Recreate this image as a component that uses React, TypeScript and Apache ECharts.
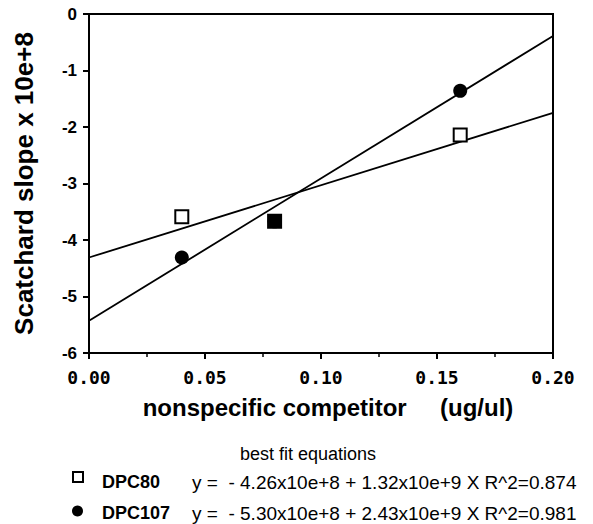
import React, { useEffect, useRef } from "react";
import * as echarts from "echarts";

// Data
const dpc80Points: [number, number][] = [
  [0.04, -3.59],
  [0.08, -3.67],
  [0.16, -2.14],
];
const dpc107Points: [number, number][] = [
  [0.04, -4.31],
  [0.08, -3.67],
  [0.16, -1.36],
];
const dpc80Fit: [number, number][] = [
  [0, -4.31],
  [0.2, -1.75],
];
const dpc107Fit: [number, number][] = [
  [0, -5.43],
  [0.2, -0.39],
];
const seriesNames = ["DPC80", "DPC107"];
const equations = [
  "y =  - 4.26x10e+8 + 1.32x10e+9 X R^2=0.874",
  "y =  - 5.30x10e+8 + 2.43x10e+9 X R^2=0.981",
];
const legendTitle = "best fit equations";
const xAxisName = "nonspecific competitor     (ug/ul)";
const yAxisName = "Scatchard slope x 10e+8";

export default function App() {
  const ref = useRef<HTMLDivElement>(null);

  useEffect(() => {
    if (!ref.current) return;
    const chart = echarts.init(ref.current, undefined, { renderer: "svg" });

    const overlaps = (p: [number, number]) =>
      dpc107Points.some((q) => q[0] === p[0] && q[1] === p[1]);

    const sans = "'Liberation Sans', Arial, Helvetica, sans-serif";
    const mono = "'DejaVu Sans Mono', monospace";

    chart.setOption({
      animation: false,
      backgroundColor: "#fff",
      grid: {
        left: 89,
        right: 40,
        top: 14,
        bottom: 171,
        show: true,
        borderColor: "#000",
        borderWidth: 2,
        backgroundColor: "transparent",
      },
      xAxis: {
        type: "value",
        min: 0,
        max: 0.2,
        interval: 0.05,
        name: xAxisName,
        nameLocation: "middle",
        nameGap: 42,
        nameTextStyle: {
          fontFamily: sans,
          fontWeight: "bold",
          fontSize: 24,
          color: "#000",
          padding: [0, 0, 0, 14],
        },
        axisLine: { onZero: false, lineStyle: { color: "#000", width: 2 } },
        axisTick: { show: true, length: 6, lineStyle: { color: "#000", width: 2 } },
        minorTick: { show: true, splitNumber: 2, length: 4, lineStyle: { color: "#000", width: 1.5 } },
        splitLine: { show: false },
        axisLabel: {
          margin: 15,
          fontFamily: mono,
          fontWeight: "bold",
          fontSize: 18,
          color: "#000",
          formatter: (v: number) => v.toFixed(2),
        },
      },
      yAxis: {
        type: "value",
        min: -6,
        max: 0,
        interval: 1,
        name: yAxisName,
        nameLocation: "middle",
        nameGap: 52,
        nameTextStyle: {
          fontFamily: sans,
          fontWeight: "bold",
          fontSize: 26,
          color: "#000",
        },
        axisLine: { onZero: false, lineStyle: { color: "#000", width: 2 } },
        axisTick: { show: true, length: 6, lineStyle: { color: "#000", width: 2 } },
        splitLine: { show: false },
        axisLabel: {
          show: true,
          margin: 12,
          color: "#000",
          fontFamily: sans,
          fontWeight: "bold",
          fontSize: 17,
          formatter: (v: number) => String(v),
        },
      },
      series: [
        {
          name: seriesNames[0] + " fit",
          type: "line",
          data: dpc80Fit,
          showSymbol: false,
          symbol: "none",
          lineStyle: { color: "#000", width: 1.8 },
          z: 1,
        },
        {
          name: seriesNames[1] + " fit",
          type: "line",
          data: dpc107Fit,
          showSymbol: false,
          symbol: "none",
          lineStyle: { color: "#000", width: 1.8 },
          z: 1,
        },
        {
          name: seriesNames[0],
          type: "scatter",
          symbol: "rect",
          symbolSize: 13,
          data: dpc80Points.map((p) =>
            overlaps(p)
              ? { value: p, itemStyle: { color: "#000" } }
              : { value: p }
          ),
          itemStyle: { color: "#fff", borderColor: "#000", borderWidth: 2, opacity: 1 },
          z: 3,
        },
        {
          name: seriesNames[1],
          type: "scatter",
          symbol: "circle",
          symbolSize: 14,
          data: dpc107Points,
          itemStyle: { color: "#000", opacity: 1 },
          z: 4,
        },
      ],
      graphic: [
        {
          type: "text",
          x: 308,
          y: 454,
          style: {
            text: legendTitle,
            fontFamily: sans,
            fontSize: 18,
            fill: "#000",
            align: "center",
            verticalAlign: "middle",
          },
        },
        {
          type: "rect",
          shape: { x: 73, y: 472, width: 10, height: 10 },
          style: { fill: "#fff", stroke: "#000", lineWidth: 2 },
        },
        {
          type: "circle",
          shape: { cx: 77.5, cy: 511, r: 5.5 },
          style: { fill: "#000" },
        },
        {
          type: "text",
          x: 102,
          y: 482,
          style: {
            text: seriesNames[0],
            fontFamily: sans,
            fontWeight: "bold",
            fontSize: 18,
            fill: "#000",
            verticalAlign: "middle",
          },
        },
        {
          type: "text",
          x: 102,
          y: 513,
          style: {
            text: seriesNames[1],
            fontFamily: sans,
            fontWeight: "bold",
            fontSize: 18,
            fill: "#000",
            verticalAlign: "middle",
          },
        },
        {
          type: "text",
          x: 192,
          y: 482,
          style: {
            text: equations[0],
            fontFamily: sans,
            fontSize: 19,
            fill: "#000",
            verticalAlign: "middle",
          },
        },
        {
          type: "text",
          x: 192,
          y: 513,
          style: {
            text: equations[1],
            fontFamily: sans,
            fontSize: 19,
            fill: "#000",
            verticalAlign: "middle",
          },
        },
      ],
    });

    return () => chart.dispose();
  }, []);

  return (
    <div
      ref={ref}
      style={{ position: "fixed", left: 0, top: 0, width: 593, height: 524, background: "#fff" }}
    />
  );
}
